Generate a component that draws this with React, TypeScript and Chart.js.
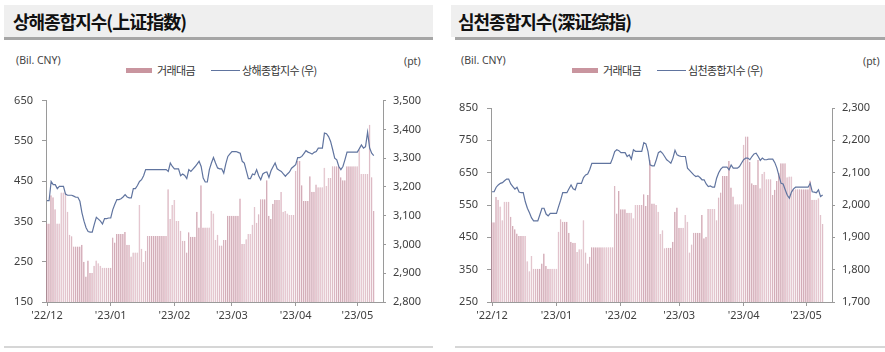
import React, { useEffect, useRef } from 'react';
import { Chart, registerables } from 'chart.js';

Chart.register(...registerables);

// ---------- categories (calendar days, 2022-12-01 .. 2023-05-13) ----------
const DAY_COUNT = 164;
const monthTickLabels = ["'22/12", "'23/01", "'23/02", "'23/03", "'23/04", "'23/05"];

function buildDays(): { labels: string[]; monthStarts: number[] } {
  const labels: string[] = [];
  const monthStarts: number[] = [];
  const t0 = Date.UTC(2022, 11, 1);
  for (let i = 0; i < DAY_COUNT; i++) {
    const d = new Date(t0 + i * 86400000);
    const yy = String(d.getUTCFullYear()).slice(2);
    const mm = String(d.getUTCMonth() + 1).padStart(2, '0');
    const dd = String(d.getUTCDate()).padStart(2, '0');
    labels.push(`'${yy}/${mm}/${dd}`);
    if (d.getUTCDate() === 1) monthStarts.push(i);
  }
  return { labels, monthStarts };
}
const { labels: dayLabels, monthStarts } = buildDays();

// ---------- Shanghai (상해종합지수) ----------
const shTurnover = [
  345, 345, 415, 410, 380, 345, 345, 422, 422, 422,
  374, 317, 313, 288, 288, 288, 288, 292, 250, 213,
  253, 222, 222, 240, 253, 246, 240, 235, 235, 235,
  235, 235, 310, 298, 319, 319, 319, 319, 324, 292,
  292, 263, 273, 273, 273, 391, 282, 249, 277, 314,
  314, 314, 314, 314, 314, 314, 314, 314, 314, 430,
  356, 391, 403, 351, 351, 327, 302, 302, 273, 323,
  312, 312, 312, 374, 335, 440, 335, 335, 335, 335,
  376, 370, 304, 317, 290, 290, 304, 304, 364, 364,
  364, 364, 364, 364, 407, 294, 294, 306, 319, 319,
  342, 386, 347, 368, 405, 405, 405, 452, 364, 356,
  394, 403, 403, 403, 423, 374, 376, 370, 366, 366,
  366, 476, 500, 500, 440, 401, 401, 401, 462, 424,
  424, 442, 435, 435, 435, 483, 438, 458, 458, 487,
  487, 487, 487, 460, 452, 452, 487, 487, 487, 487,
  487, 487, 528, 468, 468, 468, 468, 590, 460, 376,
];
const shIndex = [
  3152, 3152, 3219, 3208, 3208, 3194, 3202, 3202, 3202, 3175,
  3171, 3171, 3171, 3168, 3164, 3164, 3150, 3110, 3081, 3058,
  3045, 3043, 3043, 3070, 3094, 3088, 3081, 3071, 3090, 3090,
  3092, 3092, 3121, 3140, 3156, 3156, 3159, 3165, 3173, 3165,
  3162, 3162, 3194, 3194, 3205, 3219, 3225, 3239, 3260, 3260,
  3260, 3260, 3260, 3260, 3260, 3260, 3260, 3260, 3260, 3254,
  3283, 3271, 3263, 3263, 3263, 3239, 3245, 3240, 3229, 3260,
  3254, 3262, 3270, 3279, 3289, 3271, 3231, 3217, 3217, 3260,
  3283, 3302, 3283, 3266, 3263, 3263, 3248, 3280, 3306, 3315,
  3323, 3323, 3323, 3320, 3317, 3289, 3283, 3256, 3229, 3229,
  3245, 3242, 3260, 3239, 3225, 3245, 3250, 3252, 3233, 3256,
  3270, 3283, 3263, 3258, 3254, 3245, 3237, 3245, 3252, 3265,
  3271, 3277, 3302, 3302, 3306, 3316, 3326, 3321, 3318, 3314,
  3320, 3323, 3335, 3335, 3335, 3387, 3385, 3375, 3358, 3330,
  3300, 3294, 3271, 3260, 3271, 3295, 3321, 3321, 3321, 3321,
  3321, 3321, 3333, 3346, 3335, 3340, 3390, 3335, 3317, 3309,
];
const shLeftTicks = [150, 250, 350, 450, 550, 650];
const shRightTicks = [2800, 2900, 3000, 3100, 3200, 3300, 3400, 3500];

// ---------- Shenzhen (심천종합지수) ----------
const szTurnover = [
  497, 497, 575, 566, 545, 503, 560, 560, 560, 514,
  485, 475, 462, 454, 454, 454, 454, 376, 345, 392,
  353, 353, 353, 353, 369, 400, 361, 353, 353, 353,
  353, 353, 467, 506, 498, 498, 498, 464, 436, 433,
  433, 405, 413, 413, 503, 403, 369, 390, 419, 419,
  419, 419, 419, 419, 419, 419, 419, 419, 419, 609,
  524, 593, 537, 537, 537, 526, 526, 526, 509, 550,
  550, 550, 550, 583, 547, 581, 690, 555, 555, 550,
  529, 460, 472, 416, 418, 418, 418, 436, 529, 542,
  480, 480, 480, 519, 498, 403, 428, 464, 464, 464,
  464, 519, 447, 452, 538, 538, 538, 538, 503, 573,
  589, 640, 640, 640, 686, 604, 576, 552, 552, 552,
  552, 736, 762, 762, 684, 617, 612, 612, 690, 602,
  646, 653, 630, 630, 630, 581, 597, 624, 650, 679,
  679, 679, 636, 638, 638, 599, 599, 599, 599, 599,
  599, 599, 599, 626, 566, 566, 566, 571, 519, 491,
];
const szIndex = [
  2041, 2041, 2055, 2062, 2067, 2069, 2075, 2080, 2080, 2065,
  2057, 2049, 2055, 2040, 2038, 2038, 2010, 1990, 1976, 1960,
  1951, 1951, 1951, 1970, 1990, 1990, 1972, 1966, 1974, 1974,
  1974, 1974, 1995, 2015, 2038, 2038, 2038, 2050, 2062, 2050,
  2047, 2067, 2067, 2067, 2085, 2093, 2096, 2110, 2129, 2129,
  2129, 2129, 2129, 2129, 2129, 2129, 2129, 2129, 2145, 2165,
  2171, 2168, 2162, 2162, 2162, 2150, 2155, 2142, 2171, 2166,
  2166, 2166, 2166, 2193, 2189, 2166, 2124, 2121, 2121, 2140,
  2162, 2166, 2160, 2150, 2140, 2135, 2129, 2145, 2169, 2155,
  2152, 2150, 2150, 2150, 2114, 2107, 2100, 2093, 2088, 2090,
  2085, 2078, 2078, 2065, 2057, 2059, 2055, 2055, 2083, 2100,
  2111, 2117, 2117, 2117, 2109, 2124, 2114, 2114, 2114, 2119,
  2130, 2140, 2145, 2145, 2140, 2150, 2158, 2160, 2150, 2138,
  2145, 2140, 2140, 2142, 2142, 2142, 2131, 2114, 2090, 2067,
  2065, 2047, 2030, 2021, 2040, 2050, 2055, 2055, 2055, 2055,
  2055, 2055, 2055, 2067, 2041, 2040, 2038, 2047, 2026, 2031,
];
const szLeftTicks = [250, 350, 450, 550, 650, 750, 850];
const szRightTicks = [1700, 1800, 1900, 2000, 2100, 2200, 2300];

// ---------- styles ----------
const BAR_FILL = '#e5c3cd';
const BAR_EDGE = '#b47a8b';
const LEGEND_SWATCH = '#c9959f';
const LINE_COLOR = '#60749f';
const AXIS_COLOR = '#9a9a9a';
const TICK_COLOR = '#404040';
const FONT = "'Noto Sans', 'DejaVu Sans', sans-serif";
const KFONT = "'Noto Sans CJK KR', 'Noto Sans', sans-serif";

const fmt = (v: number) => v.toLocaleString('en-US');

type ChartProps = {
  bars: number[];
  line: number[];
  lineLabel: string;
  leftTicks: number[];
  rightTicks: number[];
  padTop: number;
  leftW: number;
  rightW: number;
  left: number;
  top: number;
  width: number;
  height: number;
};

function ComboChart(p: ChartProps) {
  const ref = useRef<HTMLCanvasElement | null>(null);
  useEffect(() => {
    if (!ref.current) return;
    const axisGrid = (tl: number) => ({
      drawOnChartArea: false,
      drawTicks: true,
      tickLength: tl,
      color: AXIS_COLOR,
      lineWidth: 1,
      offset: false,
    });
    const chart = new Chart(ref.current, {
      type: 'bar',
      data: {
        labels: dayLabels,
        datasets: [
          {
            type: 'line',
            label: p.lineLabel,
            data: p.line,
            yAxisID: 'y1',
            borderColor: LINE_COLOR,
            borderWidth: 1.2,
            pointRadius: 0,
            tension: 0,
            order: 0,
          } as any,
          {
            type: 'bar',
            label: '거래대금',
            data: p.bars,
            yAxisID: 'y',
            backgroundColor: BAR_FILL,
            borderColor: BAR_EDGE,
            borderWidth: { left: 0.7, right: 0, top: 0, bottom: 0 },
            borderSkipped: false,
            barPercentage: 0.8,
            categoryPercentage: 1,
            order: 1,
          } as any,
        ],
      },
      options: {
        responsive: false,
        maintainAspectRatio: false,
        animation: false,
        layout: { padding: { top: p.padTop, left: 0, right: 0, bottom: 0 } },
        plugins: { legend: { display: false }, tooltip: { enabled: false } },
        scales: {
          x: {
            type: 'category',
            offset: true,
            grid: axisGrid(4),
            border: { display: true, color: AXIS_COLOR, width: 1 },
            ticks: {
              autoSkip: false,
              maxRotation: 0,
              padding: 3,
              color: TICK_COLOR,
              font: { family: FONT, size: 11 },
              callback: (v: any) => {
                const k = monthStarts.indexOf(Number(v));
                return k >= 0 ? monthTickLabels[k] : '';
              },
            },
            afterBuildTicks: (s: any) => {
              s.ticks = s.ticks.filter((t: any) => monthStarts.includes(t.value));
            },
            afterFit: (s: any) => {
              s.height = p.top + p.height - 302;
            },
          } as any,
          y: {
            position: 'left',
            min: p.leftTicks[0],
            max: p.leftTicks[p.leftTicks.length - 1],
            grid: axisGrid(4),
            border: { display: true, color: AXIS_COLOR, width: 1 },
            ticks: {
              padding: 9,
              color: TICK_COLOR,
              font: { family: FONT, size: 11 },
              callback: (v: any) => fmt(Number(v)),
            },
            afterBuildTicks: (s: any) => {
              s.ticks = p.leftTicks.map((v) => ({ value: v }));
            },
            afterFit: (s: any) => {
              s.width = p.leftW;
            },
          } as any,
          y1: {
            position: 'right',
            min: p.rightTicks[0],
            max: p.rightTicks[p.rightTicks.length - 1],
            grid: axisGrid(3),
            border: { display: true, color: AXIS_COLOR, width: 1 },
            ticks: {
              padding: 7,
              color: TICK_COLOR,
              font: { family: FONT, size: 11 },
              callback: (v: any) => fmt(Number(v)),
            },
            afterBuildTicks: (s: any) => {
              s.ticks = p.rightTicks.map((v) => ({ value: v }));
            },
            afterFit: (s: any) => {
              s.width = p.rightW;
            },
          } as any,
        },
      },
    });
    return () => chart.destroy();
  }, []);
  return (
    <canvas
      ref={ref}
      width={p.width}
      height={p.height}
      style={{ position: 'absolute', left: p.left, top: p.top, width: p.width, height: p.height }}
    />
  );
}

const abs = (s: React.CSSProperties): React.CSSProperties => ({ position: 'absolute', ...s });

function Panel(props: {
  x: number;
  bandLeft: number;
  lineLeft: number;
  width: number;
  title: string;
  lineLabel: string;
  unitRight: number;
  legendX: number;
}) {
  const { x, bandLeft, lineLeft, width, title, lineLabel, unitRight, legendX } = props;
  const small: React.CSSProperties = {
    fontFamily: FONT,
    fontSize: 10.5,
    color: '#444',
    height: 16,
    lineHeight: '16px',
    whiteSpace: 'nowrap',
  };
  const legendText: React.CSSProperties = {
    fontFamily: KFONT,
    fontSize: 11,
    letterSpacing: -0.6,
    color: '#333',
    height: 16,
    lineHeight: '16px',
    whiteSpace: 'nowrap',
  };
  return (
    <>
      <div style={abs({ left: bandLeft, top: 5, width: x + width - bandLeft, height: 32, background: '#efefef' })} />
      <div style={abs({ left: lineLeft, top: 37, width: x + width - lineLeft, height: 3, background: '#a6a6a6' })} />
      <div
        style={abs({
          left: x + 13,
          top: 5,
          height: 32,
          lineHeight: '32px',
          fontFamily: KFONT,
          fontWeight: 700,
          fontSize: 18,
          letterSpacing: -1,
          color: '#111',
          whiteSpace: 'nowrap',
        })}
      >
        {title}
      </div>
      <div style={abs({ left: lineLeft, top: 346, width: x + width - lineLeft, height: 2, background: '#d6d6d6' })} />
      <div style={abs({ ...small, left: x + 16, top: 52 })}>(Bil. CNY)</div>
      <div style={abs({ ...small, left: unitRight, top: 53 })}>(pt)</div>
      <div style={abs({ left: legendX, top: 68, width: 26, height: 5, background: LEGEND_SWATCH })} />
      <div style={abs({ ...legendText, left: legendX + 31, top: 62 })}>거래대금</div>
      <div style={abs({ left: legendX + 85, top: 70, width: 29, height: 1, background: LINE_COLOR })} />
      <div style={abs({ ...legendText, left: legendX + 116, top: 62 })}>{lineLabel}</div>
    </>
  );
}

export default function App() {
  return (
    <div
      style={{
        position: 'absolute',
        left: 0,
        top: 0,
        width: 885,
        height: 352,
        background: '#ffffff',
        overflow: 'hidden',
      }}
    >
      <Panel
        x={0}
        bandLeft={4}
        lineLeft={4}
        width={433}
        title="상해종합지수(上证指数)"
        lineLabel="상해종합지수 (우)"
        unitRight={404}
        legendX={126}
      />
      <Panel
        x={445}
        bandLeft={451}
        lineLeft={455}
        width={440}
        title="심천종합지수(深证综指)"
        lineLabel="심천종합지수 (우)"
        unitRight={863}
        legendX={572}
      />
      <ComboChart
        bars={shTurnover}
        line={shIndex}
        lineLabel="상해종합지수 (우)"
        leftTicks={shLeftTicks}
        rightTicks={shRightTicks}
        left={0}
        top={85}
        width={435}
        height={245}
        padTop={14}
        leftW={46}
        rightW={52}
      />
      <ComboChart
        bars={szTurnover}
        line={szIndex}
        lineLabel="심천종합지수 (우)"
        leftTicks={szLeftTicks}
        rightTicks={szRightTicks}
        left={445}
        top={85}
        width={440}
        height={245}
        padTop={23}
        leftW={46}
        rightW={53}
      />
    </div>
  );
}
